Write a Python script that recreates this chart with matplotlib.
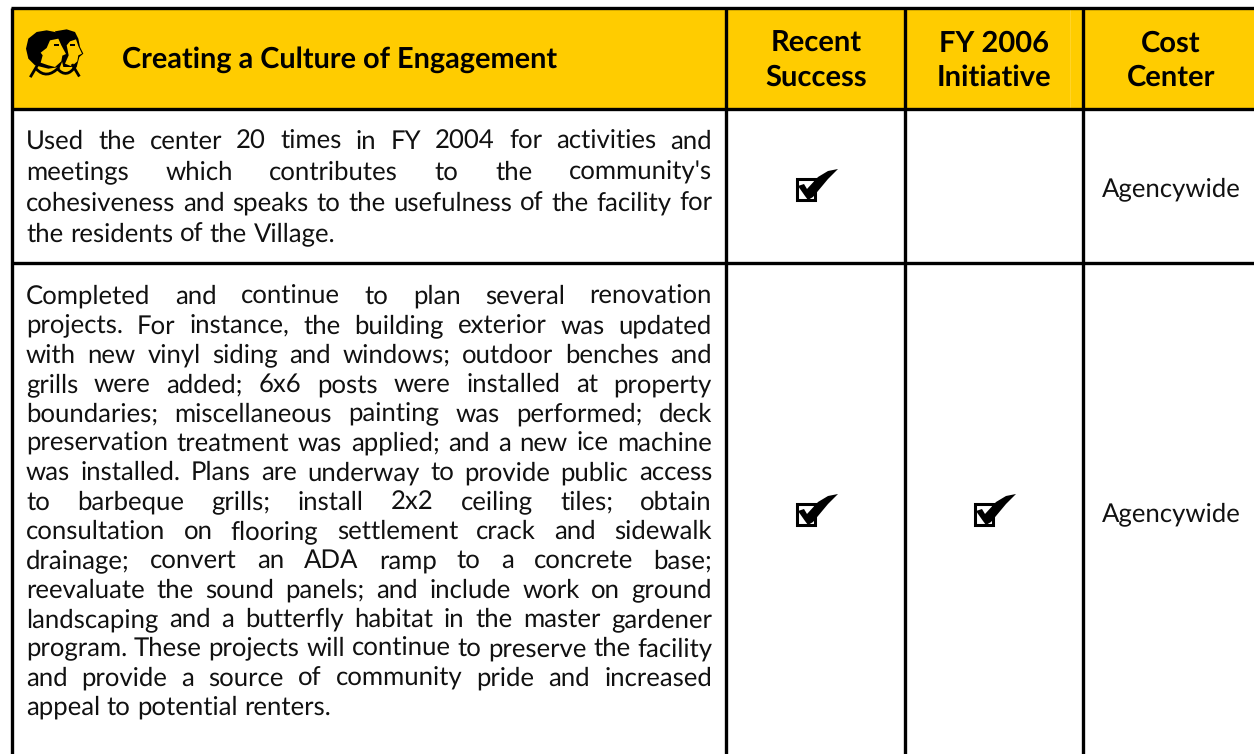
import matplotlib
matplotlib.use('Agg')
import matplotlib.pyplot as plt
from matplotlib.patches import Rectangle, Polygon, PathPatch
from matplotlib.path import Path

plt.rcParams['text.hinting'] = 'no_hinting'

HEADER_COLOR = '#FFCC00'
TEXT_FONT = 'Lato'

title = 'Creating a Culture of Engagement'
col_headers = [('Recent', 'Success'), ('FY 2006', 'Initiative'), ('Cost', 'Center')]

row1_lines = [
    "Used the center 20 times in FY 2004 for activities and",
    "meetings which contributes to the community's",
    "cohesiveness and speaks to the usefulness of the facility for",
    "the residents of the Village.",
]
row2_lines = [
    "Completed and continue to plan several renovation",
    "projects. For instance, the building exterior was updated",
    "with new vinyl siding and windows; outdoor benches and",
    "grills were added; 6x6 posts were installed at property",
    "boundaries; miscellaneous painting was performed; deck",
    "preservation treatment was applied; and a new ice machine",
    "was installed.  Plans are underway to provide public access",
    "to barbeque grills; install 2x2 ceiling tiles; obtain",
    "consultation on flooring settlement crack and sidewalk",
    "drainage; convert an ADA ramp to a concrete base;",
    "reevaluate the sound panels; and include work on ground",
    "landscaping and a butterfly habitat in the master gardener",
    "program. These projects will continue to preserve the facility",
    "and provide a source of community pride and increased",
    "appeal to potential renters.",
]
rows = [row1_lines, row2_lines]
recent_success = [True, True]
fy2006_initiative = [False, True]
cost_center = ['Agencywide', 'Agencywide']

# table grid in pixels
col_edges = [12, 726, 905, 1083, 1254]
col_centers = [816, 994, 1171]
row_edges = [8, 109, 263, 754]
row_centers = [188, 513]
first_baseline = [149, 304]
line_step = [30.8, 29.35]

fig = plt.figure(figsize=(12.54, 7.54), dpi=100)
ax = fig.add_axes([0, 0, 1, 1])
ax.set_xlim(0, 1254)
ax.set_ylim(754, 0)
ax.axis('off')


def draw_justified(line, x0, x1, y, size, justify=True):
    words = line.split()
    items = [ax.text(x0, y, w, fontsize=size, family=TEXT_FONT, color='#111111', va='baseline') for w in words]
    rend = fig.canvas.get_renderer()
    inv = ax.transData.inverted()
    widths = []
    for t in items:
        bb = t.get_window_extent(rend)
        widths.append(inv.transform((bb.x1, 0))[0] - inv.transform((bb.x0, 0))[0])
    if justify and len(words) > 1:
        gap = (x1 - x0 - sum(widths)) / (len(words) - 1)
    else:
        gap = size * 0.36
    x = x0
    for t, w in zip(items, widths):
        t.set_x(x)
        x += w + gap


def draw_check(cx, cy):
    # box with a tick sweeping out of the top right
    ax.add_patch(Rectangle((cx - 19.5, cy - 9), 18, 21, fill=False, ec='black', lw=2.2))
    tick = [(cx - 18, cy - 2), (cx - 12, cy - 4), (cx - 9, cy + 1), (cx + 2, cy - 11), (cx + 12, cy - 17),
            (cx + 22, cy - 19), (cx + 12, cy - 9), (cx - 3, cy + 9), (cx - 8, cy + 12), (cx - 11, cy + 8)]
    ax.add_patch(Polygon(tick, closed=True, fc='black', ec='none'))


def icon_pts(pts):
    return [(20 + x / 3, 22 + y / 3) for x, y in pts]


def draw_people():
    rear_hair = [(105, 28), (140, 22), (165, 30), (175, 50), (180, 75), (190, 95), (178, 105), (170, 135), (130, 135)]
    rear_face = [(140, 70), (150, 58), (168, 52), (175, 72), (186, 95), (175, 100), (172, 118), (155, 133), (135, 125), (146, 100)]
    front_hair = [(45, 130), (25, 110), (18, 80), (25, 50), (50, 30), (80, 25), (105, 30), (122, 45), (130, 70),
                  (140, 95), (130, 110), (120, 135), (85, 140)]
    front_face = [(62, 122), (68, 100), (62, 92), (80, 78), (90, 55), (115, 50), (124, 70), (138, 96), (127, 101),
                  (124, 118), (105, 135), (85, 130)]
    for pts, col in [(rear_hair, 'black'), (rear_face, HEADER_COLOR), (front_hair, 'black'), (front_face, HEADER_COLOR)]:
        ax.add_patch(Polygon(icon_pts(pts), closed=True, fc=col, ec='none'))
    for ex, ey in [(110, 68), (157, 68)]:
        ax.add_patch(Rectangle(icon_pts([(ex - 7, ey - 3)])[0], 4.5, 2.2, fc='black', ec='none'))
    collars = [[(48, 140), (80, 175), (118, 135)], [(112, 140), (140, 172), (167, 132)]]
    for c in collars:
        path = Path(icon_pts(c), [Path.MOVETO, Path.CURVE3, Path.CURVE3])
        ax.add_patch(PathPatch(path, fc='none', ec='black', lw=2))
    for stem in [[(52, 130), (33, 162)], [(158, 130), (176, 160)]]:
        xs, ys = zip(*icon_pts(stem))
        ax.plot(xs, ys, color='black', lw=2)


# header band
ax.add_patch(Rectangle((col_edges[0], row_edges[0]), col_edges[-1] - col_edges[0], row_edges[1] - row_edges[0],
                       fc=HEADER_COLOR, ec='none', zorder=0))
ax.plot([1070, 1070], [row_edges[0], row_edges[1]], color='#FFD633', lw=0.6, zorder=0.5)

draw_people()

ax.text(122, 68, title, fontsize=20.8, family=TEXT_FONT, weight='bold', color='black', va='baseline')

for cx, (top, bottom) in zip(col_centers, col_headers):
    ax.text(cx, 52, top, fontsize=21, family=TEXT_FONT, weight='bold', ha='center', va='baseline', color='black')
    ax.text(cx, 86, bottom, fontsize=21, family=TEXT_FONT, weight='bold', ha='center', va='baseline', color='black')

# body text
for r, lines in enumerate(rows):
    for n, line in enumerate(lines):
        y = first_baseline[r] + n * line_step[r]
        draw_justified(line, 26, 712, y, 18.5, justify=n < len(lines) - 1)

# marks and cost center
for r in range(len(rows)):
    cy = row_centers[r]
    if recent_success[r]:
        draw_check(col_centers[0], cy)
    if fy2006_initiative[r]:
        draw_check(col_centers[1], cy)
    ax.text(col_centers[2], cy + 8, cost_center[r], fontsize=18.5, family=TEXT_FONT, ha='center', va='baseline', color='#111111')

# grid lines
for x in col_edges[:-1]:
    ax.plot([x, x], [row_edges[0], row_edges[-1]], color='black', lw=2.4, solid_capstyle='butt')
for y in row_edges[:-1]:
    ax.plot([col_edges[0] - 1, col_edges[-1]], [y, y], color='black', lw=2.4, solid_capstyle='butt')

fig.savefig('out.png', dpi=100)
